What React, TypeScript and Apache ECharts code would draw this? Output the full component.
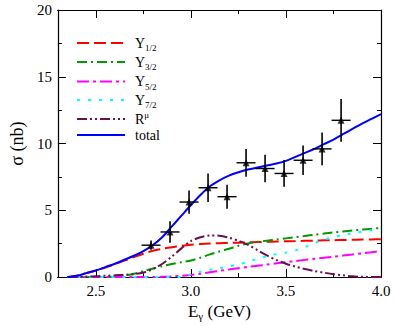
import React, { useEffect, useRef } from "react";
import * as echarts from "echarts";

const energies = [2.35, 2.40, 2.45, 2.50, 2.55, 2.60, 2.65, 2.70, 2.75, 2.80, 2.85, 2.90, 2.95, 3.00, 3.05, 3.10, 3.15, 3.20, 3.25, 3.30, 3.35, 3.40, 3.45, 3.50, 3.55, 3.60, 3.65, 3.70, 3.75, 3.80, 3.85, 3.90, 3.95, 4.00];
const y12 = [0, 0.1, 0.3, 0.5, 0.72, 0.97, 1.23, 1.5, 1.75, 1.97, 2.12, 2.24, 2.34, 2.42, 2.47, 2.51, 2.54, 2.56, 2.58, 2.6, 2.62, 2.64, 2.66, 2.68, 2.7, 2.72, 2.73, 2.75, 2.76, 2.78, 2.79, 2.81, 2.82, 2.84];
const y32 = [0, 0, 0, 0, 0, 0.02, 0.1, 0.25, 0.45, 0.65, 0.82, 0.98, 1.12, 1.25, 1.45, 1.7, 1.92, 2.12, 2.35, 2.52, 2.64, 2.73, 2.81, 2.9, 2.99, 3.08, 3.18, 3.26, 3.34, 3.42, 3.49, 3.56, 3.62, 3.68];
const y52 = [0, 0, 0, 0, 0, 0, 0, 0, 0, 0, 0.02, 0.05, 0.1, 0.16, 0.25, 0.36, 0.47, 0.57, 0.67, 0.76, 0.85, 0.94, 1.03, 1.12, 1.2, 1.29, 1.37, 1.45, 1.53, 1.61, 1.69, 1.78, 1.86, 1.95];
const y72 = [0, 0, 0, 0, 0, 0, 0, 0, 0, 0, 0, 0, 0, 0.22, 0.4, 0.55, 0.68, 0.8, 0.95, 1.15, 1.38, 1.55, 1.72, 1.85, 2.0, 2.25, 2.55, 2.8, 3.0, 3.15, 3.28, 3.4, 3.5, 3.6];
const rmu = [0, 0.02, 0.04, 0.06, 0.1, 0.13, 0.17, 0.22, 0.35, 0.6, 1.0, 1.55, 2.15, 2.7, 2.98, 3.12, 3.1, 2.95, 2.72, 2.42, 2.02, 1.62, 1.28, 1.0, 0.78, 0.6, 0.45, 0.33, 0.22, 0.13, 0.06, 0.02, 0, 0];
const total = [0, 0.1, 0.3, 0.5, 0.75, 1.0, 1.3, 1.6, 1.95, 2.4, 3.0, 3.8, 4.6, 5.4, 6.15, 6.8, 7.25, 7.6, 7.85, 8.05, 8.2, 8.35, 8.5, 8.7, 9.0, 9.3, 9.6, 9.95, 10.3, 10.7, 11.1, 11.5, 11.85, 12.2];

const dataE = [2.79, 2.89, 2.99, 3.09, 3.19, 3.29, 3.39, 3.49, 3.59, 3.69, 3.79];
const dataSigma = [2.39, 3.38, 5.62, 6.69, 6.02, 8.56, 8.13, 7.76, 8.75, 9.6, 11.74];
const dataErrE = [0.05, 0.05, 0.05, 0.05, 0.05, 0.05, 0.05, 0.05, 0.05, 0.05, 0.05];
const dataErrSigma = [0.35, 0.8, 0.87, 1.07, 0.9, 1.04, 1.03, 1.0, 1.1, 1.23, 1.6];

const xMajorTicks = [2.5, 3.0, 3.5, 4.0];
const xMinorTicks = [2.75, 3.25, 3.75];

const FONT = "'Liberation Serif', 'Times New Roman', serif";

const curves = [
  { name: "Y{sub|1/2}", data: y12, color: "#ff0000", dash: [12, 5] },
  { name: "Y{sub|3/2}", data: y32, color: "#009a00", dash: [10, 4, 2, 4] },
  { name: "Y{sub|5/2}", data: y52, color: "#ff00ff", dash: [12, 4, 3, 4] },
  { name: "Y{sub|7/2}", data: y72, color: "#00ffff", dash: [3, 8] },
  { name: "R{sup|μ}", data: rmu, color: "#6b0f4f", dash: [10, 3, 2, 3, 2, 3] },
  { name: "total", data: total, color: "#0000ff", dash: null as number[] | null },
];

export default function App() {
  const ref = useRef<HTMLDivElement>(null);
  useEffect(() => {
    if (!ref.current) return;
    const chart = echarts.init(ref.current, null, { renderer: "svg" });
    const axisLine = { show: true, lineStyle: { color: "#000", width: 1.2 } };
    const baseX = {
      type: "value" as const,
      min: 2.3,
      max: 4.0,
      splitLine: { show: false },
      axisLine,
    };
    const legendRowsY = [43, 62, 81.5, 100, 119, 135];
    const graphics: any[] = [];
    curves.forEach((c, i) => {
      graphics.push({
        type: "line",
        shape: { x1: 77, y1: legendRowsY[i], x2: 125, y2: legendRowsY[i] },
        style: { stroke: c.color, lineWidth: 2, lineDash: c.dash || undefined },
        z: 10,
      });
      graphics.push({
        type: "text",
        x: 135,
        y: legendRowsY[i],
        style: {
          text: c.name,
          fontSize: 14,
          fontFamily: FONT,
          fill: "#000",
          verticalAlign: "middle",
          rich: {
            sub: { fontSize: 9, fontFamily: FONT, padding: [10, 0, 0, 0] },
            sup: { fontSize: 9, fontFamily: FONT, padding: [0, 0, 8, 0] },
          },
        },
        z: 10,
      });
    });
    const errData = dataE.map((e, i) => [e, dataSigma[i], dataErrE[i], dataErrSigma[i]]);
    chart.setOption({
      animation: false,
      backgroundColor: "#fff",
      grid: { left: 49, right: 13, top: 10, bottom: 48 },
      xAxis: [
        {
          ...baseX,
          position: "bottom",
          name: "E{sub|γ} (GeV)",
          nameLocation: "middle",
          nameGap: 24,
          nameTextStyle: { fontSize: 17, fontFamily: FONT, color: "#000", rich: { sub: { fontSize: 11, fontFamily: FONT, padding: [8, 0, 0, 0] } } },
          axisTick: { show: true, inside: true, length: 8, customValues: xMajorTicks, lineStyle: { color: "#000" } },
          axisLabel: { show: true, customValues: xMajorTicks, formatter: (v: number) => v.toFixed(1), fontSize: 15, fontFamily: FONT, color: "#000", margin: 6 },
        },
        {
          ...baseX,
          position: "bottom",
          axisTick: { show: true, inside: true, length: 4, customValues: xMinorTicks, lineStyle: { color: "#000" } },
          axisLabel: { show: false },
        },
        {
          ...baseX,
          position: "top",
          axisTick: { show: true, inside: true, length: 8, customValues: xMajorTicks, lineStyle: { color: "#000" } },
          axisLabel: { show: false },
        },
        {
          ...baseX,
          position: "top",
          axisTick: { show: true, inside: true, length: 4, customValues: xMinorTicks, lineStyle: { color: "#000" } },
          axisLabel: { show: false },
        },
      ],
      yAxis: [
        {
          type: "value",
          min: 0,
          max: 20,
          interval: 5,
          position: "left",
          splitLine: { show: false },
          axisLine,
          name: "σ (nb)",
          nameLocation: "middle",
          nameGap: 27,
          nameRotate: 90,
          nameTextStyle: { fontSize: 18, fontFamily: FONT, color: "#000" },
          axisTick: { show: true, inside: true, length: 8, lineStyle: { color: "#000" } },
          minorTick: { show: true, splitNumber: 2, length: 4, lineStyle: { color: "#000" } },
          axisLabel: { fontSize: 15, fontFamily: FONT, color: "#000", margin: 6 },
        },
        {
          type: "value",
          min: 0,
          max: 20,
          interval: 5,
          position: "right",
          splitLine: { show: false },
          axisLine,
          axisTick: { show: true, inside: true, length: 8, lineStyle: { color: "#000" } },
          minorTick: { show: true, splitNumber: 2, length: 4, lineStyle: { color: "#000" } },
          axisLabel: { show: false },
        },
      ],
      graphic: graphics,
      series: [
        ...curves.map((c) => ({
          type: "line",
          name: c.name,
          xAxisIndex: 0,
          yAxisIndex: 0,
          data: energies.map((e, i) => [e, c.data[i]]),
          showSymbol: false,
          symbol: "none",
          smooth: 0.3,
          lineStyle: { color: c.color, width: 2, type: c.dash || "solid" },
          z: c.name === "total" ? 5 : 3,
        })),
        {
          type: "custom",
          xAxisIndex: 0,
          yAxisIndex: 0,
          data: errData,
          z: 6,
          renderItem: (params: any, api: any) => {
            const x = api.value(0), y = api.value(1), ex = api.value(2), ey = api.value(3);
            const l = api.coord([x - ex, y]);
            const r = api.coord([x + ex, y]);
            const t = api.coord([x, y + ey]);
            const b = api.coord([x, y - ey]);
            return {
              type: "group",
              children: [
                { type: "line", shape: { x1: l[0], y1: l[1], x2: r[0], y2: r[1] }, style: { stroke: "#000", lineWidth: 1.4 } },
                { type: "line", shape: { x1: t[0], y1: t[1], x2: b[0], y2: b[1] }, style: { stroke: "#000", lineWidth: 1.6 } },
              ],
            };
          },
        },
        {
          type: "scatter",
          xAxisIndex: 0,
          yAxisIndex: 0,
          data: dataE.map((e, i) => [e, dataSigma[i]]),
          symbol: "triangle",
          symbolSize: 7,
          itemStyle: { color: "#000" },
          z: 7,
        },
      ],
    });
    return () => chart.dispose();
  }, []);
  return <div ref={ref} style={{ position: "fixed", left: 0, top: 0, width: 394, height: 326 }} />;
}
